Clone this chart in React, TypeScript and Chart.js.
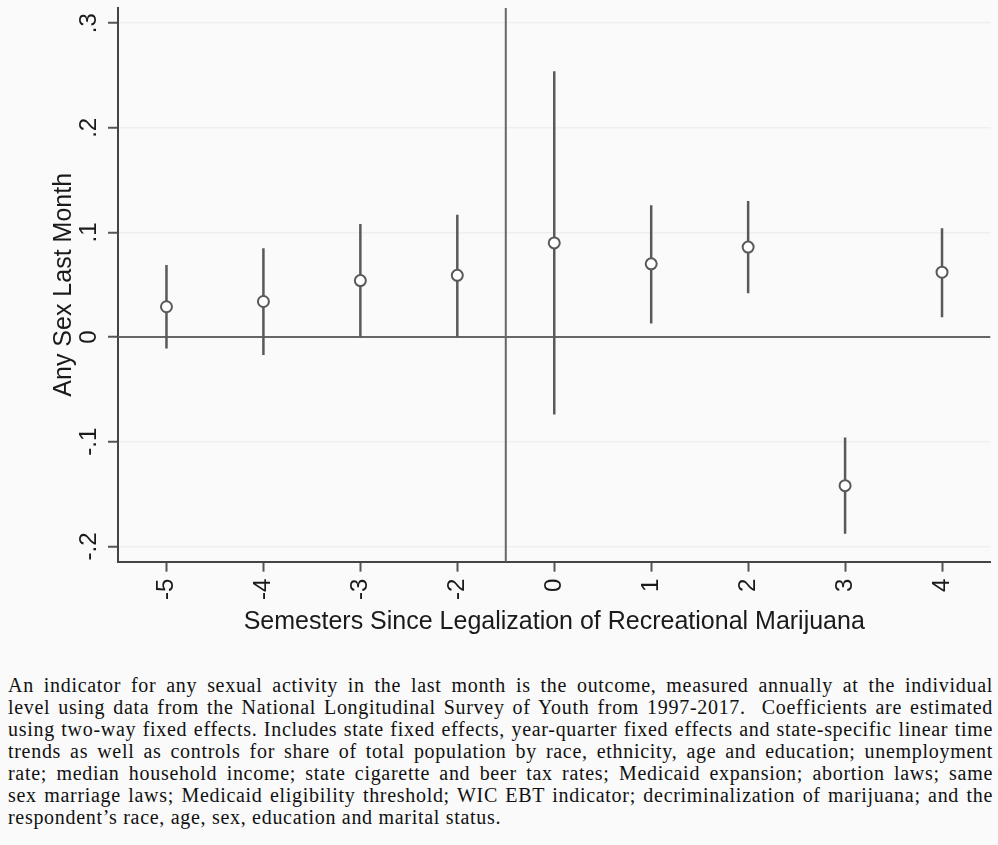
import React, { useEffect, useRef } from "react";
import { Chart, registerables } from "chart.js";

Chart.register(...registerables);

// Event-study estimates: semesters relative to legalization (-1 is the omitted period)
const semesterLabels = ["-5", "-4", "-3", "-2", "0", "1", "2", "3", "4"];
const coefficients = [0.029, 0.034, 0.054, 0.059, 0.09, 0.07, 0.086, -0.142, 0.062];
const ciLower = [-0.011, -0.017, 0.0, 0.0, -0.074, 0.013, 0.042, -0.188, 0.019];
const ciUpper = [0.069, 0.085, 0.108, 0.117, 0.254, 0.126, 0.13, -0.096, 0.104];

const yTickValues = [-0.2, -0.1, 0, 0.1, 0.2, 0.3];
const yTickLabels = ["-.2", "-.1", "0", ".1", ".2", ".3"];

const Y_MIN = -0.2146;
const Y_MAX = 0.3145;
// legalization happens between the "-2" and "0" positions
const LEGALIZATION_X = 3.5;

const captionLines = [
  "An indicator for any sexual activity in the last month is the outcome, measured annually at the individual",
  "level using data from the National Longitudinal Survey of Youth from 1997-2017.  Coefficients are estimated",
  "using two-way fixed effects. Includes state fixed effects, year-quarter fixed effects and state-specific linear time",
  "trends as well as controls for share of total population by race, ethnicity, age and education; unemployment",
  "rate; median household income; state cigarette and beer tax rates; Medicaid expansion; abortion laws; same",
  "sex marriage laws; Medicaid eligibility threshold; WIC EBT indicator; decriminalization of marijuana; and the",
  "respondent\u2019s race, age, sex, education and marital status.",
];

const SANS = "'Liberation Sans', Arial, Helvetica, sans-serif";
const INK = "#1a1a1a";
const MARK = "#595959";
const BG = "#fafafa";

// rotated y-axis tick labels, positioned from the y scale
const rotatedYTicks = {
  id: "rotatedYTicks",
  afterDraw(chart: any) {
    const scale = chart.scales.y;
    const ctx = chart.ctx;
    ctx.save();
    ctx.fillStyle = INK;
    ctx.font = `24px ${SANS}`;
    ctx.textAlign = "center";
    ctx.textBaseline = "middle";
    yTickValues.forEach((v, i) => {
      const py = scale.getPixelForValue(v);
      ctx.save();
      ctx.translate(89, py);
      ctx.rotate(-Math.PI / 2);
      ctx.fillText(yTickLabels[i], 0, 0);
      ctx.restore();
    });
    ctx.restore();
  },
};

const pageBackground = {
  id: "pageBackground",
  beforeDraw(chart: any) {
    const ctx = chart.ctx;
    ctx.save();
    ctx.fillStyle = BG;
    ctx.fillRect(0, 0, chart.width, chart.height);
    ctx.restore();
  },
};

export default function App() {
  const canvasRef = useRef<HTMLCanvasElement | null>(null);

  useEffect(() => {
    document.body.style.margin = "0";
    document.body.style.background = BG;
    const canvas = canvasRef.current;
    if (!canvas) return;

    const points = coefficients.map((c, i) => ({ x: i, y: c }));
    const whiskers: { x: number; y: number | null }[] = [];
    ciLower.forEach((lo, i) => {
      whiskers.push({ x: i, y: lo });
      whiskers.push({ x: i, y: ciUpper[i] });
      whiskers.push({ x: i, y: null });
    });

    const chart = new Chart(canvas, {
      type: "scatter",
      data: {
        datasets: [
          {
            label: "Coefficient",
            data: points,
            pointStyle: "circle",
            pointRadius: 5.5,
            pointBorderWidth: 2,
            pointBorderColor: MARK,
            pointBackgroundColor: "#ffffff",
            showLine: false,
          },
          {
            label: "95% CI",
            data: whiskers as any,
            showLine: true,
            spanGaps: false,
            borderColor: MARK,
            borderWidth: 2.5,
            pointRadius: 0,
          },
          {
            label: "Zero",
            data: [
              { x: -0.5, y: 0 },
              { x: 8.5, y: 0 },
            ],
            showLine: true,
            borderColor: "#666666",
            borderWidth: 2,
            pointRadius: 0,
          },
          {
            label: "Legalization",
            data: [
              { x: LEGALIZATION_X, y: Y_MIN },
              { x: LEGALIZATION_X, y: Y_MAX },
            ],
            showLine: true,
            borderColor: "#666666",
            borderWidth: 2,
            pointRadius: 0,
          },
        ],
      },
      options: {
        animation: false,
        responsive: false,
        events: [],
        layout: { padding: { top: 8, right: 3, bottom: 8, left: 0 } },
        plugins: {
          legend: { display: false },
          tooltip: { enabled: false },
        },
        scales: {
          x: {
            type: "linear",
            min: -0.5,
            max: 8.5,
            afterBuildTicks: (scale: any) => {
              scale.ticks = semesterLabels.map((_, i) => ({ value: i }));
            },
            ticks: {
              autoSkip: false,
              minRotation: 90,
              maxRotation: 90,
              padding: 7,
              color: INK,
              font: { family: SANS, size: 24 },
              callback: (value: any) => semesterLabels[Math.round(Number(value))] ?? "",
            },
            grid: {
              drawOnChartArea: false,
              drawTicks: true,
              tickLength: 10,
              tickColor: "#555555",
              tickWidth: 2,
            },
            border: { display: true, color: "#444444", width: 2 },
            title: {
              display: true,
              text: "Semesters Since Legalization of Recreational Marijuana",
              color: INK,
              font: { family: SANS, size: 25 },
              padding: { top: 0, bottom: 1 },
            },
          },
          y: {
            type: "linear",
            min: Y_MIN,
            max: Y_MAX,
            afterBuildTicks: (scale: any) => {
              scale.ticks = yTickValues.map((v) => ({ value: v }));
            },
            ticks: { display: false },
            grid: {
              color: "#efefef",
              lineWidth: 1.5,
              drawTicks: true,
              tickLength: 10,
              tickColor: "#555555",
              tickWidth: 2,
            },
            border: { display: true, color: "#444444", width: 2 },
            title: {
              display: true,
              text: "Any Sex Last Month",
              color: INK,
              font: { family: SANS, size: 25 },
              padding: { top: 49, bottom: 29 },
            },
          },
        },
      },
      plugins: [pageBackground, rotatedYTicks],
    });

    return () => chart.destroy();
  }, []);

  return (
    <div style={{ width: 998, background: BG, position: "relative", height: 845 }}>
      <canvas ref={canvasRef} width={998} height={646} style={{ display: "block" }} />
      <div
        style={{
          position: "absolute",
          left: 8,
          top: 674,
          width: 985,
          fontFamily: "'Liberation Serif', 'Times New Roman', serif",
          fontSize: 20,
          lineHeight: "22px",
          letterSpacing: "0.7px",
          color: "#111",
        }}
      >
        {captionLines.map((line, i) => (
          <div
            key={i}
            style={{
              whiteSpace: "pre",
              textAlign: i === captionLines.length - 1 ? "left" : "justify",
              textAlignLast: i === captionLines.length - 1 ? "left" : "justify",
            }}
          >
            {line}
          </div>
        ))}
      </div>
    </div>
  );
}
